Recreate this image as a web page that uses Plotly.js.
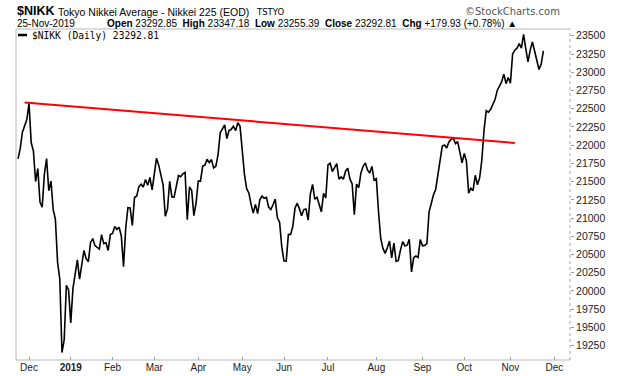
<!DOCTYPE html>
<html><head><meta charset="utf-8">
<script src="https://cdn.plot.ly/plotly-3.0.1.min.js"></script>
<style>html,body{margin:0;padding:0;background:#fff}#chart{width:620px;height:376px}</style>
</head><body><div id="chart"></div>
<script>
const dates = [
'2018-11-26','2018-11-27','2018-11-28','2018-11-29','2018-11-30',
'2018-12-03','2018-12-04','2018-12-05','2018-12-06','2018-12-07','2018-12-10','2018-12-11','2018-12-12','2018-12-13','2018-12-14','2018-12-17','2018-12-18','2018-12-19','2018-12-20','2018-12-21','2018-12-25','2018-12-26','2018-12-27','2018-12-28',
'2019-01-04','2019-01-07','2019-01-08','2019-01-09','2019-01-10','2019-01-11','2019-01-15','2019-01-16','2019-01-17','2019-01-18','2019-01-21','2019-01-22','2019-01-23','2019-01-24','2019-01-25','2019-01-28','2019-01-29','2019-01-30','2019-01-31',
'2019-02-01','2019-02-04','2019-02-05','2019-02-06','2019-02-07','2019-02-08','2019-02-12','2019-02-13','2019-02-14','2019-02-15','2019-02-18','2019-02-19','2019-02-20','2019-02-21','2019-02-22','2019-02-25','2019-02-26','2019-02-27','2019-02-28',
'2019-03-01','2019-03-04','2019-03-05','2019-03-06','2019-03-07','2019-03-08','2019-03-11','2019-03-12','2019-03-13','2019-03-14','2019-03-15','2019-03-18','2019-03-19','2019-03-20','2019-03-22','2019-03-25','2019-03-26','2019-03-27','2019-03-28','2019-03-29',
'2019-04-01','2019-04-02','2019-04-03','2019-04-04','2019-04-05','2019-04-08','2019-04-09','2019-04-10','2019-04-11','2019-04-12','2019-04-15','2019-04-16','2019-04-17','2019-04-18','2019-04-19','2019-04-22','2019-04-23','2019-04-24','2019-04-25','2019-04-26',
'2019-05-07','2019-05-08','2019-05-09','2019-05-10','2019-05-13','2019-05-14','2019-05-15','2019-05-16','2019-05-17','2019-05-20','2019-05-21','2019-05-22','2019-05-23','2019-05-24','2019-05-27','2019-05-28','2019-05-29','2019-05-30','2019-05-31',
'2019-06-03','2019-06-04','2019-06-05','2019-06-06','2019-06-07','2019-06-10','2019-06-11','2019-06-12','2019-06-13','2019-06-14','2019-06-17','2019-06-18','2019-06-19','2019-06-20','2019-06-21','2019-06-24','2019-06-25','2019-06-26','2019-06-27','2019-06-28',
'2019-07-01','2019-07-02','2019-07-03','2019-07-04','2019-07-05','2019-07-08','2019-07-09','2019-07-10','2019-07-11','2019-07-12','2019-07-16','2019-07-17','2019-07-18','2019-07-19','2019-07-22','2019-07-23','2019-07-24','2019-07-25','2019-07-26','2019-07-29','2019-07-30','2019-07-31',
'2019-08-01','2019-08-02','2019-08-05','2019-08-06','2019-08-07','2019-08-08','2019-08-09','2019-08-13','2019-08-14','2019-08-15','2019-08-16','2019-08-19','2019-08-20','2019-08-21','2019-08-22','2019-08-23','2019-08-26','2019-08-27','2019-08-28','2019-08-29','2019-08-30',
'2019-09-02','2019-09-03','2019-09-04','2019-09-05','2019-09-06','2019-09-09','2019-09-10','2019-09-11','2019-09-12','2019-09-13','2019-09-17','2019-09-18','2019-09-19','2019-09-20','2019-09-24','2019-09-25','2019-09-26','2019-09-27','2019-09-30',
'2019-10-01','2019-10-02','2019-10-03','2019-10-04','2019-10-07','2019-10-08','2019-10-09','2019-10-10','2019-10-11','2019-10-15','2019-10-16','2019-10-17','2019-10-18','2019-10-21','2019-10-23','2019-10-24','2019-10-25','2019-10-28','2019-10-29','2019-10-30','2019-10-31',
'2019-11-01','2019-11-05','2019-11-06','2019-11-07','2019-11-08','2019-11-11','2019-11-12','2019-11-13','2019-11-14','2019-11-15','2019-11-18','2019-11-19','2019-11-20','2019-11-21','2019-11-22','2019-11-25'
];
const closes = [
21812,21952,22177,22262,22351,
22574,22036,21919,21501,21679,21219,21148,21602,21816,21374,21506,21115,20987,20392,20166,19155,19327,20077,20015,
19561,20038,20204,20427,20163,20359,20555,20442,20402,20666,20719,20622,20593,20574,20773,20649,20664,20556,20773,
20788,20883,20844,20874,20751,20333,20864,21144,21140,20900,21281,21302,21431,21464,21425,21528,21449,21556,21385,
21602,21822,21726,21596,21456,21025,21125,21503,21290,21287,21450,21584,21566,21608,21627,20977,21428,21378,21033,21205,
21509,21505,21713,21724,21807,21761,21802,21687,21711,21870,22169,22221,22277,22090,22200,22217,22259,22200,22307,22258,
21923,21602,21402,21344,21191,21067,21188,21062,21250,21301,21272,21283,21151,21117,21182,21260,21003,20942,20601,
20410,20408,20776,20774,20884,21134,21204,21129,21032,21116,21124,20972,21333,21462,21258,21285,21193,21086,21338,21275,
21729,21754,21638,21702,21746,21534,21565,21533,21643,21685,21535,21469,21046,21466,21416,21620,21709,21756,21658,21616,21709,21521,
21540,21087,20720,20585,20516,20593,20684,20455,20655,20405,20418,20563,20677,20618,20628,20710,20261,20456,20479,20460,20704,
20620,20625,20649,21086,21199,21318,21392,21597,21759,21988,22001,21960,22044,22079,22098,22020,22048,21878,21756,
21885,21778,21341,21410,21375,21587,21456,21551,21799,22207,22472,22451,22492,22549,22625,22750,22799,22867,22974,22843,22927,
22850,23251,23303,23330,23391,23331,23520,23319,23141,23303,23416,23292,23148,23038,23112,23292.81
];
const trendDates = ['2018-11-29','2019-11-06'];
const trendValues = [22585, 22030];
const holidays = ['2018-11-23','2018-12-24','2018-12-31','2019-01-01','2019-01-02','2019-01-03','2019-01-14','2019-02-11','2019-03-21','2019-04-29','2019-04-30','2019-05-01','2019-05-02','2019-05-03','2019-05-06','2019-07-15','2019-08-12','2019-09-16','2019-09-23','2019-10-14','2019-10-22','2019-11-04'];
const tickDates = ['2018-12-03','2019-01-04','2019-02-01','2019-03-01','2019-04-01','2019-05-07','2019-06-03','2019-07-01','2019-08-01','2019-09-02','2019-10-01','2019-11-01','2019-12-02'];
const tickLabels = ['Dec','<b>2019</b>','Feb','Mar','Apr','May','Jun','Jul','Aug','Sep','Oct','Nov','Dec'];
const yTicks = [19250,19500,19750,20000,20250,20500,20750,21000,21250,21500,21750,22000,22250,22500,22750,23000,23250,23500];

const L=16, R=570.5, T=29, B=360;
const px = v => (v - L) / (R - L);
const py = v => (B - v) / (B - T);
const sans = 'Liberation Sans, Arial, sans-serif';

const traces = [
  {x: dates, y: closes, type: 'scatter', mode: 'lines', line: {color: '#000', width: 1.6}, hoverinfo: 'skip'},
  {x: trendDates, y: trendValues, type: 'scatter', mode: 'lines', line: {color: '#ff0000', width: 2}, hoverinfo: 'skip'}
];

const ann = (x, y, text, font, xanchor) => ({xref:'paper', yref:'paper', x: px(x), y: py(y), text, showarrow:false, xanchor: xanchor||'left', yanchor:'middle', font, borderpad:0});

const layout = {
  width: 620, height: 376,
  margin: {l: L, r: 620 - R, t: T, b: 376 - B, pad: 0},
  paper_bgcolor: '#fff', plot_bgcolor: '#fff',
  showlegend: false,
  xaxis: {
    type: 'date',
    range: ['2018-11-22 02:00', '2019-12-11 02:30'],
    rangebreaks: [{bounds: ['sat', 'mon']}, {values: holidays}],
    tickvals: tickDates, ticktext: tickLabels,
    ticks: 'inside', ticklen: 3, tickcolor: '#999', tickwidth: 1,
    tickfont: {family: sans, size: 10, color: '#222'},
    showgrid: false, zeroline: false, showline: false, automargin: false
  },
  yaxis: {
    side: 'right',
    range: [19053, 23593],
    tickvals: yTicks, ticktext: yTicks.map(String),
    ticks: 'outside', ticklen: 3, tickcolor: '#999', tickwidth: 1,
    tickfont: {family: sans, size: 10.5, color: '#222'},
    showgrid: false, zeroline: false, showline: false, automargin: false
  },
  shapes: [
    {type:'line', xref:'paper', yref:'paper', x0:0, x1:0, y0:0, y1:1, line:{color:'#b8b8b8', width:1}},
    {type:'line', xref:'paper', yref:'paper', x0:0, x1:1, y0:1, y1:1, line:{color:'#b8b8b8', width:1}},
    {type:'line', xref:'paper', yref:'paper', x0:0, x1:1, y0:0, y1:0, line:{color:'#b8b8b8', width:1}},
    {type:'line', xref:'paper', yref:'paper', x0:1, x1:1, y0:0, y1:1, line:{color:'#a8a8a8', width:1, dash:'dot'}},
    {type:'line', xref:'paper', yref:'paper', x0:px(18), x1:px(27), y0:py(35), y1:py(35), line:{color:'#000', width:2.5}}
  ],
  annotations: [
    ann(16, 11, '<b>$NIKK</b>', {family: sans, size: 12.5, color:'#000'}),
    ann(57, 11.5, 'Tokyo Nikkei Average - Nikkei 225 (EOD)', {family: sans, size: 10.5, color:'#000'}),
    ann(255, 11.5, 'TSTYO', {family: 'DejaVu Sans, sans-serif', size: 8.5, color:'#000'}),
    ann(561, 11.5, '©StockCharts.com', {family: 'DejaVu Sans, sans-serif', size: 10, color:'#555'}, 'right'),
    ann(16, 23.5, '25-Nov-2019', {family: sans, size: 10, color:'#000'}),
    ann(106, 23.5, '<b>Open</b> 23292.85  <b>High</b> 23347.18  <b>Low</b> 23255.39  <b>Close</b> 23292.81  <b>Chg</b> +179.93 (+0.78%) ▲', {family: sans, size: 10, color:'#000'}),
    ann(31.5, 35.5, '$NIKK (Daily) 23292.81', {family: 'DejaVu Sans Mono, monospace', size: 9.6, color:'#000'})
  ]
};

Plotly.newPlot('chart', traces, layout, {displayModeBar: false, staticPlot: true});
</script></body></html>
